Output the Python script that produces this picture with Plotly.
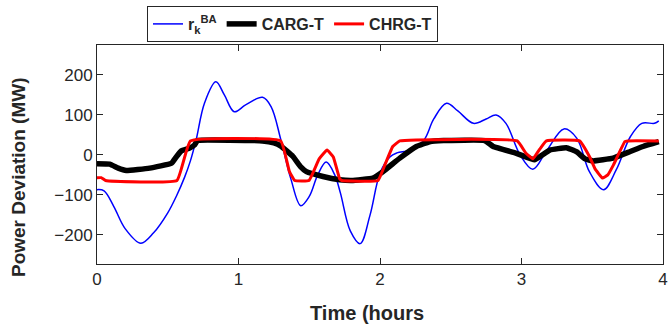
import plotly.graph_objects as go

# ---- data ----
blue_x = [0.0, 0.05, 0.12, 0.2, 0.31, 0.4, 0.5, 0.56, 0.62, 0.66, 0.70, 0.76, 0.84, 0.90, 0.97, 1.05, 1.17, 1.23,
          1.30, 1.37, 1.44, 1.50, 1.56, 1.62, 1.68, 1.72, 1.79, 1.86, 1.93, 2.0, 2.07, 2.12, 2.21, 2.31, 2.38, 2.47,
          2.55, 2.66, 2.75, 2.82, 2.89, 2.99, 3.08, 3.18, 3.30, 3.39, 3.48, 3.58, 3.67, 3.77, 3.85, 3.94, 3.97]
blue_y = [-87, -90, -130, -185, -221, -195, -145, -104, -55, -15, 37, 130, 183, 150, 108, 125, 144, 121,
          37, -60, -127, -104, -50, -18, -50, -95, -190, -222, -150, -46, -5, 5, 12, 37, 90, 129,
          110, 79, 90, 100, 79, 0, -36, 12, 65, 42, -42, -87, -37, 46, 79, 79, 85]

red_x = [0, 0.03, 0.06, 0.565, 0.66, 1.298, 1.36, 1.397, 1.498, 1.57, 1.626, 1.67, 1.715, 1.73, 1.986, 2.03,
         2.09, 2.14, 2.97, 3.03, 3.08, 3.13, 3.176, 3.41, 3.48, 3.52, 3.572, 3.61, 3.65, 3.73, 3.75, 3.97]
red_y = [-57, -57, -64, -64, 35, 35, -42, -64, -64, -10, 12, -5, -60, -64, -64, -29,
         21, 35, 35, 5, -10, 15, 35, 35, -4, -35, -58, -50, -25, 33, 35, 35]

black_x = [0, 0.09, 0.15, 0.207, 0.372, 0.526, 0.56, 0.596, 0.655, 0.69, 0.71, 1.17, 1.25, 1.30, 1.385, 1.44,
           1.48, 1.597, 1.715, 1.80, 1.95, 2.02, 2.14, 2.257, 2.35, 2.45, 2.74, 2.80, 2.964, 3.093, 3.2, 3.317,
           3.388, 3.45, 3.505, 3.647, 3.765, 3.859, 3.97]
black_y = [-22, -23, -33, -39, -33, -21, -5, 10, 17, 25, 36, 35, 30, 22, -4, -30,
           -42, -54, -62, -64, -58, -42, -8, 21, 33, 36, 36, 21, 4, -12, 12, 18,
           8, -10, -15, -8, 8, 21, 33]

x_ticks = [0, 1, 2, 3, 4]
y_ticks = [-200, -100, 0, 100, 200]

txt = "#262626"
font_family = "Liberation Sans, Arial, Helvetica, sans-serif"

fig = go.Figure()
fig.add_trace(go.Scatter(x=blue_x, y=blue_y, mode="lines", name="<b>r<sub>k</sub><sup>BA</sup></b>",
                         line=dict(color="#0000ff", width=1.5, shape="spline", smoothing=1.0)))
fig.add_trace(go.Scatter(x=black_x, y=black_y, mode="lines", name="<b>CARG-T</b>",
                         line=dict(color="#000000", width=5.5, shape="spline", smoothing=0.3)))
fig.add_trace(go.Scatter(x=red_x, y=red_y, mode="lines", name="<b>CHRG-T</b>",
                         line=dict(color="#ff0000", width=3, shape="spline", smoothing=0.3)))

axis_common = dict(showline=True, linecolor=txt, linewidth=1, mirror="ticks", ticks="inside",
                   ticklen=6, tickcolor=txt, showgrid=False, zeroline=False,
                   tickprefix="<b>", ticksuffix="</b>",
                   tickfont=dict(family=font_family, size=17, color=txt))

fig.update_xaxes(range=[0, 4], tickvals=x_ticks, **axis_common)
fig.update_yaxes(range=[-273, 275], tickvals=y_ticks, **axis_common)

fig.update_layout(
    width=670, height=325,
    margin=dict(l=97, r=7, t=45, b=61, autoexpand=False),
    paper_bgcolor="white", plot_bgcolor="white",
    font=dict(family=font_family, size=17, color=txt),
    showlegend=True,
    legend=dict(orientation="h", x=(147 - 97) / 566, y=(264 - 6) / 219, xanchor="left", yanchor="top",
                bgcolor="white", bordercolor=txt, borderwidth=1,
                font=dict(family=font_family, size=16, color=txt),
                tracegroupgap=0),
    annotations=[
        dict(text="<b>Time (hours</b>", xref="paper", yref="paper", x=(367 - 97) / 566, y=-(313 - 264) / 219,
             xanchor="center", yanchor="middle", showarrow=False,
             font=dict(family=font_family, size=20, color=txt)),
        dict(text="<b>Power Deviation (MW)</b>", xref="paper", yref="paper", x=-(97 - 18) / 566,
             y=(264 - 177) / 219, xanchor="center", yanchor="middle", textangle=-90, showarrow=False,
             font=dict(family=font_family, size=19, color=txt)),
    ],
)

fig.write_html("out.html", config={"displayModeBar": False},
               post_script="document.body.style.margin='0';document.body.style.padding='0';")
